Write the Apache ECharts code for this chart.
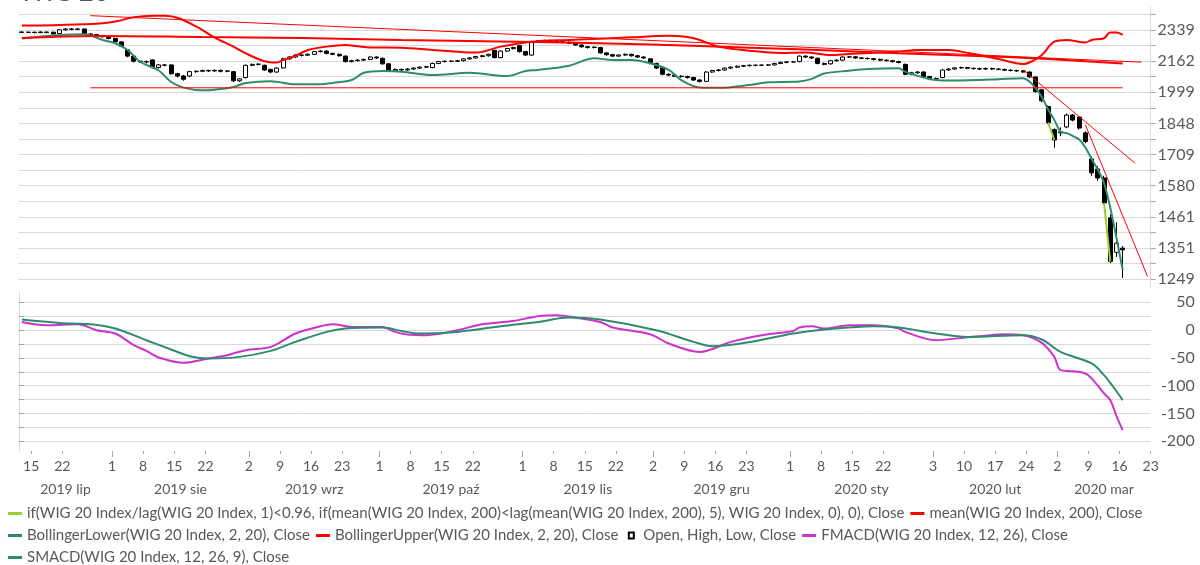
<!DOCTYPE html>
<html>
<head>
<meta charset="utf-8">
<script src="https://cdn.jsdelivr.net/npm/echarts@6/dist/echarts.min.js"></script>
<style>
  html, body { margin: 0; padding: 0; background: #fff; }
  #chart { width: 1200px; height: 565px; }
</style>
</head>
<body>
<div id="chart"></div>
<script>
// axis range (trading days) and tick labels
const firstDay = '2019-07-11'
const lastDay = '2020-03-20'
const axisEndDay = '2020-03-23'
const dayTicks = [
  '2019-07-15', '2019-07-22', '2019-08-01', '2019-08-08', '2019-08-15', '2019-08-22',
  '2019-09-02', '2019-09-09', '2019-09-16', '2019-09-23', '2019-10-01', '2019-10-08',
  '2019-10-15', '2019-10-22', '2019-11-01', '2019-11-08', '2019-11-15', '2019-11-22',
  '2019-12-02', '2019-12-09', '2019-12-16', '2019-12-23', '2020-01-01', '2020-01-08',
  '2020-01-15', '2020-01-22', '2020-02-03', '2020-02-10', '2020-02-17', '2020-02-24',
  '2020-03-02', '2020-03-09', '2020-03-16', '2020-03-23'
]
const monthStarts = ['2019-08-01', '2019-09-02', '2019-10-01', '2019-11-01', '2019-12-02', '2020-01-01', '2020-02-03', '2020-03-02']
const monthNames = ['2019 lip', '2019 sie', '2019 wrz', '2019 paź', '2019 lis', '2019 gru', '2020 sty', '2020 lut', '2020 mar']
const priceTicks = [1249, 1351, 1461, 1580, 1709, 1848, 1999, 2162, 2339]
const macdTicks = [-200, -150, -100, -50, 0, 50]

// WIG 20 daily candles, 2019-07-11 .. 2020-03-16
const opens = [
  2327, 2325, 2326, 2324, 2327, 2326, 2318, 2340, 2345, 2343,
  2345, 2316, 2312, 2305, 2300, 2290, 2270, 2225, 2190, 2162,
  2160, 2169, 2128, 2142, 2142, 2095, 2083, 2083, 2106, 2108,
  2112, 2110, 2113, 2108, 2106, 2058, 2075, 2140, 2145, 2140,
  2118, 2104, 2126, 2175, 2185, 2196, 2195, 2200, 2215, 2218,
  2205, 2200, 2190, 2160, 2165, 2168, 2172, 2185, 2178, 2148,
  2110, 2118, 2115, 2120, 2125, 2130, 2128, 2150, 2160, 2162,
  2162, 2165, 2175, 2180, 2188, 2192, 2222, 2182, 2218, 2232,
  2248, 2215, 2196, 2272, 2276, 2278, 2272, 2270, 2268, 2262,
  2252, 2242, 2238, 2238, 2208, 2198, 2190, 2196, 2200, 2192,
  2185, 2175, 2150, 2130, 2092, 2088, 2082, 2080, 2075, 2062,
  2055, 2104, 2112, 2115, 2125, 2130, 2135, 2138, 2140, 2140,
  2141, 2142, 2150, 2156, 2158, 2160, 2190, 2185, 2178, 2150,
  2148, 2165, 2168, 2185, 2186, 2180, 2178, 2176, 2172, 2168,
  2165, 2160, 2145, 2092, 2100, 2104, 2080, 2070, 2075, 2115,
  2120, 2126, 2128, 2124, 2122, 2120, 2123, 2120, 2118, 2114,
  2112, 2110, 2104, 2078, 2012, 1929, 1820, 1805, 1832, 1888,
  1878, 1805, 1690, 1648, 1611, 1457, 1336, 1350
]
const closes = [
  2325, 2326, 2324, 2327, 2324, 2316, 2340, 2345, 2343, 2345,
  2316, 2312, 2305, 2300, 2290, 2270, 2245, 2190, 2162, 2160,
  2158, 2130, 2142, 2140, 2095, 2083, 2066, 2106, 2108, 2112,
  2110, 2113, 2108, 2110, 2058, 2068, 2140, 2145, 2146, 2115,
  2104, 2125, 2175, 2185, 2196, 2195, 2200, 2215, 2218, 2205,
  2200, 2192, 2160, 2165, 2168, 2172, 2185, 2180, 2148, 2110,
  2118, 2115, 2120, 2125, 2130, 2132, 2150, 2160, 2162, 2162,
  2165, 2175, 2180, 2188, 2192, 2200, 2182, 2218, 2232, 2238,
  2215, 2196, 2272, 2276, 2278, 2272, 2270, 2268, 2262, 2252,
  2242, 2238, 2240, 2208, 2198, 2190, 2196, 2200, 2192, 2185,
  2180, 2150, 2125, 2092, 2088, 2082, 2080, 2075, 2062, 2055,
  2104, 2112, 2115, 2125, 2130, 2135, 2138, 2140, 2140, 2141,
  2142, 2150, 2156, 2158, 2158, 2190, 2185, 2180, 2150, 2145,
  2165, 2168, 2185, 2186, 2180, 2178, 2176, 2172, 2168, 2165,
  2160, 2155, 2092, 2100, 2104, 2080, 2070, 2068, 2115, 2120,
  2126, 2128, 2124, 2122, 2120, 2123, 2120, 2118, 2114, 2112,
  2110, 2104, 2078, 2003, 1957, 1852, 1773, 1810, 1888, 1864,
  1827, 1766, 1632, 1611, 1513, 1305, 1367, 1344
]
const lows = [
  2320, 2321, 2319, 2320, 2319, 2312, 2315, 2336, 2338, 2339,
  2312, 2306, 2300, 2294, 2285, 2265, 2240, 2184, 2155, 2152,
  2150, 2125, 2122, 2134, 2090, 2076, 2058, 2078, 2100, 2103,
  2104, 2105, 2102, 2103, 2052, 2052, 2070, 2135, 2139, 2110,
  2098, 2100, 2122, 2170, 2181, 2189, 2191, 2196, 2210, 2200,
  2195, 2187, 2155, 2155, 2160, 2163, 2168, 2174, 2143, 2105,
  2104, 2109, 2110, 2115, 2120, 2125, 2124, 2146, 2155, 2156,
  2157, 2160, 2170, 2176, 2183, 2187, 2177, 2178, 2213, 2227,
  2210, 2190, 2192, 2267, 2271, 2267, 2264, 2262, 2257, 2247,
  2237, 2232, 2233, 2203, 2192, 2185, 2186, 2191, 2187, 2180,
  2175, 2145, 2120, 2087, 2082, 2077, 2074, 2069, 2057, 2049,
  2051, 2099, 2107, 2111, 2120, 2125, 2130, 2133, 2135, 2136,
  2136, 2138, 2146, 2151, 2154, 2156, 2180, 2175, 2145, 2140,
  2143, 2160, 2164, 2180, 2175, 2173, 2171, 2167, 2163, 2160,
  2155, 2150, 2087, 2087, 2095, 2075, 2065, 2062, 2071, 2110,
  2115, 2121, 2119, 2117, 2115, 2115, 2115, 2113, 2109, 2107,
  2105, 2099, 2072, 1997, 1950, 1845, 1739, 1790, 1826, 1858,
  1820, 1758, 1620, 1600, 1505, 1300, 1320, 1252
]
const highs = [
  2331, 2330, 2329, 2331, 2330, 2329, 2344, 2349, 2350, 2350,
  2348, 2320, 2316, 2309, 2304, 2294, 2274, 2230, 2195, 2168,
  2166, 2173, 2147, 2147, 2146, 2100, 2088, 2110, 2113, 2117,
  2116, 2118, 2117, 2114, 2110, 2072, 2144, 2150, 2151, 2144,
  2121, 2129, 2180, 2190, 2200, 2201, 2205, 2219, 2223, 2222,
  2209, 2204, 2194, 2170, 2173, 2177, 2189, 2189, 2182, 2152,
  2123, 2122, 2125, 2129, 2134, 2137, 2154, 2164, 2167, 2168,
  2170, 2179, 2185, 2192, 2197, 2204, 2226, 2222, 2236, 2243,
  2252, 2219, 2277, 2281, 2283, 2283, 2277, 2275, 2273, 2266,
  2256, 2247, 2245, 2242, 2212, 2203, 2200, 2205, 2204, 2197,
  2189, 2179, 2154, 2134, 2097, 2093, 2087, 2085, 2079, 2066,
  2108, 2116, 2120, 2129, 2134, 2139, 2142, 2145, 2144, 2145,
  2147, 2154, 2160, 2162, 2162, 2194, 2194, 2189, 2182, 2155,
  2169, 2173, 2189, 2191, 2190, 2184, 2182, 2180, 2176, 2172,
  2169, 2164, 2149, 2105, 2109, 2108, 2084, 2075, 2119, 2125,
  2130, 2133, 2132, 2128, 2127, 2128, 2127, 2124, 2122, 2118,
  2116, 2114, 2107, 2082, 2016, 1935, 1826, 1830, 1895, 1893,
  1883, 1812, 1700, 1660, 1620, 1470, 1440, 1357
]

// days on which the if(...) signal returns the close
const signalDays = ['2020-02-27', '2020-02-28', '2020-03-09', '2020-03-11', '2020-03-12']

const bbUpper = [
  ['2019-07-11', 2365], ['2019-07-18', 2367], ['2019-07-25', 2373], ['2019-07-30', 2379], ['2019-08-01', 2389],
  ['2019-08-06', 2415], ['2019-08-09', 2425], ['2019-08-13', 2424], ['2019-08-15', 2412], ['2019-08-20', 2360],
  ['2019-08-23', 2295], ['2019-08-28', 2243], ['2019-08-30', 2205], ['2019-09-04', 2162], ['2019-09-06', 2155],
  ['2019-09-09', 2168], ['2019-09-11', 2192], ['2019-09-13', 2224], ['2019-09-18', 2243], ['2019-09-23', 2252],
  ['2019-09-25', 2245], ['2019-09-27', 2238], ['2019-10-04', 2237], ['2019-10-11', 2224], ['2019-10-18', 2212],
  ['2019-10-22', 2210], ['2019-10-28', 2243], ['2019-11-04', 2271], ['2019-11-12', 2281], ['2019-11-19', 2288],
  ['2019-11-26', 2296], ['2019-12-04', 2305], ['2019-12-09', 2298], ['2019-12-11', 2281], ['2019-12-16', 2243],
  ['2019-12-23', 2220], ['2019-12-30', 2208], ['2020-01-03', 2210], ['2020-01-09', 2196], ['2020-01-14', 2202],
  ['2020-01-24', 2215], ['2020-01-29', 2224], ['2020-02-05', 2224], ['2020-02-07', 2215], ['2020-02-12', 2196],
  ['2020-02-17', 2174], ['2020-02-21', 2147], ['2020-02-24', 2155], ['2020-02-26', 2196], ['2020-02-28', 2271],
  ['2020-03-03', 2281], ['2020-03-06', 2266], ['2020-03-09', 2281], ['2020-03-11', 2291], ['2020-03-12', 2325],
  ['2020-03-13', 2325], ['2020-03-16', 2310]
]
const bbLower = [
  ['2019-07-11', 2290], ['2019-07-25', 2314], ['2019-07-30', 2281], ['2019-08-01', 2262], ['2019-08-05', 2224],
  ['2019-08-07', 2159], ['2019-08-12', 2112], ['2019-08-14', 2052], ['2019-08-16', 2023], ['2019-08-21', 2009],
  ['2019-08-23', 2012], ['2019-08-28', 2026], ['2019-08-30', 2047], ['2019-09-05', 2056], ['2019-09-11', 2040],
  ['2019-09-17', 2040], ['2019-09-19', 2047], ['2019-09-24', 2062], ['2019-09-26', 2100], ['2019-10-01', 2109],
  ['2019-10-04', 2106], ['2019-10-11', 2088], ['2019-10-21', 2100], ['2019-10-29', 2083], ['2019-11-01', 2110],
  ['2019-11-05', 2115], ['2019-11-12', 2138], ['2019-11-18', 2178], ['2019-11-21', 2169], ['2019-11-26', 2169],
  ['2019-11-29', 2151], ['2019-12-04', 2115], ['2019-12-06', 2062], ['2019-12-11', 2024], ['2019-12-16', 2022],
  ['2019-12-23', 2036], ['2019-12-26', 2050], ['2020-01-02', 2054], ['2020-01-06', 2068], ['2020-01-08', 2096],
  ['2020-01-14', 2111], ['2020-01-17', 2120], ['2020-01-24', 2124], ['2020-01-27', 2106], ['2020-01-31', 2066],
  ['2020-02-05', 2059], ['2020-02-12', 2062], ['2020-02-17', 2066], ['2020-02-21', 2071], ['2020-02-24', 2054],
  ['2020-02-25', 2020], ['2020-02-26', 1975], ['2020-02-27', 1915], ['2020-02-28', 1865], ['2020-03-02', 1811],
  ['2020-03-03', 1804], ['2020-03-04', 1790], ['2020-03-05', 1775], ['2020-03-06', 1740], ['2020-03-09', 1690],
  ['2020-03-10', 1645], ['2020-03-11', 1590], ['2020-03-12', 1495], ['2020-03-13', 1385], ['2020-03-16', 1278]
]
const mean200 = [
  ['2019-07-11', 2292], ['2019-07-29', 2304], ['2019-08-21', 2298], ['2019-09-12', 2292], ['2019-10-04', 2281],
  ['2019-10-28', 2272], ['2019-11-19', 2262], ['2019-12-11', 2246], ['2020-01-02', 2228], ['2020-01-24', 2206],
  ['2020-02-17', 2186], ['2020-02-27', 2174], ['2020-03-16', 2150]
]
const fmacd = [
  ['2019-07-11', 14.6], ['2019-07-17', 8.7], ['2019-07-24', 10.5], ['2019-07-29', -0.3], ['2019-08-01', -6.2],
  ['2019-08-06', -27.2], ['2019-08-08', -37.4], ['2019-08-12', -49.2], ['2019-08-16', -58.9], ['2019-08-22', -51],
  ['2019-08-27', -45.1], ['2019-08-30', -36.1], ['2019-09-05', -30.2], ['2019-09-11', -6.2], ['2019-09-17', 6.9],
  ['2019-09-19', 10.5], ['2019-09-24', 5.7], ['2019-10-01', 5.7], ['2019-10-03', -3.3], ['2019-10-07', -8],
  ['2019-10-10', -9.2], ['2019-10-17', -0.3], ['2019-10-23', 10.5], ['2019-10-30', 16.4], ['2019-11-05', 24.9],
  ['2019-11-08', 26.7], ['2019-11-13', 22.5], ['2019-11-19', 14.6], ['2019-11-21', 4.6], ['2019-11-29', -7.4],
  ['2019-12-04', -24.1], ['2019-12-11', -39.2], ['2019-12-18', -21.2], ['2019-12-25', -9.2], ['2020-01-01', -1.5],
  ['2020-01-02', 4.6], ['2020-01-06', 6.9], ['2020-01-08', 2.8], ['2020-01-14', 8.7], ['2020-01-20', 8.7],
  ['2020-01-24', 2.8], ['2020-01-27', -3.3], ['2020-02-03', -18.2], ['2020-02-07', -14.1], ['2020-02-12', -11],
  ['2020-02-18', -7.4], ['2020-02-21', -9.2], ['2020-02-26', -23], ['2020-02-28', -48.2], ['2020-03-02', -72],
  ['2020-03-04', -74], ['2020-03-06', -78], ['2020-03-09', -86.9], ['2020-03-11', -113.9], ['2020-03-12', -125.9],
  ['2020-03-13', -154.6], ['2020-03-16', -179.7]
]
const smacd = [
  ['2019-07-11', 18.9], ['2019-07-19', 12.9], ['2019-07-26', 10.5], ['2019-08-01', 2.8], ['2019-08-08', -18.2],
  ['2019-08-14', -34.9], ['2019-08-19', -46.9], ['2019-08-22', -51], ['2019-08-29', -48.2], ['2019-09-05', -37.4],
  ['2019-09-11', -21.2], ['2019-09-18', -3.3], ['2019-09-23', 2.8], ['2019-10-01', 4.6], ['2019-10-04', -1.5],
  ['2019-10-09', -6.2], ['2019-10-17', -3.3], ['2019-10-28', 6.9], ['2019-11-05', 14.6], ['2019-11-12', 22.5],
  ['2019-11-19', 18.9], ['2019-12-02', -0.3], ['2019-12-10', -21.2], ['2019-12-13', -29], ['2019-12-24', -19.5],
  ['2020-01-01', -6.2], ['2020-01-08', 1], ['2020-01-20', 6.9], ['2020-01-24', 4.6], ['2020-02-03', -6.2],
  ['2020-02-10', -12.3], ['2020-02-21', -9.2], ['2020-02-26', -16.9], ['2020-03-02', -39.2], ['2020-03-09', -60],
  ['2020-03-11', -81], ['2020-03-12', -95], ['2020-03-13', -110], ['2020-03-16', -126]
]

// hand drawn trend lines
const trendTop = [['2019-07-26', 2425], ['2020-03-19', 2157]]
const trendFlat = [['2019-07-26', 2022], ['2020-03-16', 2022]]
const trendCrash1 = [['2020-02-21', 2115], ['2020-03-18', 1672]]
const trendCrash2 = [['2020-03-06', 1842], ['2020-03-20', 1257]]

const names = {
  signal: 'if(WIG 20 Index/lag(WIG 20 Index, 1)<0.96, if(mean(WIG 20 Index, 200)<lag(mean(WIG 20 Index, 200), 5), WIG 20 Index, 0), 0), Close',
  mean: 'mean(WIG 20 Index, 200), Close',
  lower: 'BollingerLower(WIG 20 Index, 2, 20), Close',
  upper: 'BollingerUpper(WIG 20 Index, 2, 20), Close',
  ohlc: 'Open, High, Low, Close',
  fmacd: 'FMACD(WIG 20 Index, 12, 26), Close',
  smacd: 'SMACD(WIG 20 Index, 12, 26, 9), Close'
}

const RED = '#ff0000'
const TEAL = '#2e8b6f'
const MAGENTA = '#cc33cc'
const LIME = '#9acd32'
const GRID = '#d9d9d9'
const TEXT = '#595959'
const FONT = 'Lato'

function weekdays (from, to) {
  const out = []
  const d = new Date(from + 'T00:00:00Z')
  const end = new Date(to + 'T00:00:00Z')
  while (d <= end) {
    const w = d.getUTCDay()
    if (w !== 0 && w !== 6) out.push(d.toISOString().slice(0, 10))
    d.setUTCDate(d.getUTCDate() + 1)
  }
  return out
}

const days = weekdays(firstDay, lastDay)
const tickDays = weekdays(firstDay, axisEndDay)
const pos = s => tickDays.indexOf(s)

// price axis is logarithmic: one grid line per half label step
const STEP = Math.log(priceTicks[priceTicks.length - 1] / priceTicks[0]) / ((priceTicks.length - 1) * 2)
const lg = p => Math.log(p / priceTicks[0]) / STEP
const priceGridLines = Array.from({ length: (priceTicks.length - 1) * 2 + 2 }, (_, k) => k)
const priceLabelPos = priceTicks.map((_, k) => k * 2)

const macdGridLines = []
for (let v = macdTicks[0]; v <= macdTicks[macdTicks.length - 1]; v += 25) macdGridLines.push(v)

const dayTickPos = dayTicks.map(pos)
const dayTickText = {}
dayTicks.forEach(d => { dayTickText[pos(d)] = String(Number(d.slice(8))) })
const monthStartPos = monthStarts.map(pos)
const bounds = [0, ...monthStartPos, days.length]
const monthMidPos = monthNames.map((_, k) => (bounds[k] + bounds[k + 1]) / 2)
const monthText = {}
monthMidPos.forEach((p, k) => { monthText[p] = monthNames[k] })

const candleData = opens.map((o, i) => [lg(o), lg(closes[i]), lg(lows[i]), lg(highs[i])])
const signalData = closes.map((c, i) => signalDays.includes(days[i]) ? lg(c) : null)
const logPairs = arr => arr.map(([d, v]) => [d, lg(v)])

const lineIcon = 'path://M0,0h0.01v0.01h-0.01z M0,3.5h14v3h-14z M13.99,9.99h0.01v0.01h-0.01z'
const candleIcon = 'path://M0,0h0.01v0.01h-0.01z M3.5,1h7v8h-7z M5.5,3v4h3v-4z M13.99,9.99h0.01v0.01h-0.01z'

const legendBase = {
  left: 8,
  padding: 0,
  itemWidth: 14,
  itemHeight: 10,
  itemGap: 6,
  selectedMode: false,
  itemStyle: { borderWidth: 0 },
  textStyle: { color: TEXT, fontSize: 15, fontFamily: FONT }
}

const valueXAxis = extra => Object.assign({
  type: 'value', gridIndex: 1, position: 'bottom', min: 0, max: days.length,
  axisLine: { show: false }, splitLine: { show: false }
}, extra)

const trend = data => ({
  type: 'line', xAxisIndex: 0, yAxisIndex: 0, data: logPairs(data), silent: true,
  symbol: 'none', color: RED, lineStyle: { width: 1, color: RED }
})

const chart = echarts.init(document.getElementById('chart'))

chart.setOption({
  animation: false,
  textStyle: { fontFamily: FONT },
  title: {
    text: 'WIG 20', left: 14, top: -25,
    textStyle: { fontSize: 26, fontWeight: 'normal', color: TEXT, fontFamily: FONT }
  },
  legend: [
    Object.assign({ top: 506, data: [
      { name: names.signal, icon: lineIcon },
      { name: names.mean, icon: lineIcon }
    ] }, legendBase),
    Object.assign({ top: 528, data: [
      { name: names.lower, icon: lineIcon },
      { name: names.upper, icon: lineIcon },
      { name: names.ohlc, icon: candleIcon, itemStyle: { color: '#000', borderWidth: 0 } },
      { name: names.fmacd, icon: lineIcon }
    ] }, legendBase),
    Object.assign({ top: 550, data: [
      { name: names.smacd, icon: lineIcon }
    ] }, legendBase)
  ],
  grid: [
    { left: 18.8, right: 49.3, top: 7, height: 281.3 },
    { left: 18.8, right: 49.3, top: 292.3, height: 158.7 }
  ],
  xAxis: [
    {
      type: 'category', gridIndex: 0, position: 'bottom', data: days, boundaryGap: true,
      axisLine: { lineStyle: { color: GRID } }, axisTick: { show: false }, axisLabel: { show: false }
    },
    {
      type: 'category', gridIndex: 1, position: 'bottom', data: days, boundaryGap: true,
      axisLine: { lineStyle: { color: GRID } }, axisTick: { show: false }, axisLabel: { show: false }
    },
    valueXAxis({
      axisTick: { customValues: dayTickPos, length: 3, lineStyle: { color: '#a6a6a6' } },
      axisLabel: {
        customValues: dayTickPos, formatter: v => dayTickText[v] || '',
        color: TEXT, fontSize: 14, margin: 8, fontFamily: FONT
      }
    }),
    valueXAxis({
      axisTick: { customValues: monthStartPos, length: 6, lineStyle: { color: '#a6a6a6' } },
      axisLabel: { show: false }
    }),
    valueXAxis({
      axisTick: { show: false },
      axisLabel: {
        customValues: monthMidPos, formatter: v => monthText[v] || '',
        color: TEXT, fontSize: 14, margin: 31, fontFamily: FONT
      }
    })
  ],
  yAxis: [
    {
      type: 'value', gridIndex: 0, position: 'right',
      min: -(288.3 - 279) / 15.5625, max: 16 + (30 - 7) / 15.5625,
      axisLine: { show: true, lineStyle: { color: GRID } },
      axisTick: { show: true, customValues: priceGridLines, length: 5, lineStyle: { color: '#a6a6a6' } },
      axisLabel: {
        customValues: priceLabelPos, formatter: v => String(priceTicks[Math.round(v / 2)]),
        color: TEXT, fontSize: 16, align: 'right', margin: 44, fontFamily: FONT
      },
      splitLine: { show: true, lineStyle: { color: GRID } }
    },
    {
      type: 'value', gridIndex: 1, position: 'right',
      min: -217.4, max: 67.9,
      axisLine: { show: true, lineStyle: { color: GRID } },
      axisTick: { show: true, customValues: macdGridLines, length: 5, lineStyle: { color: '#a6a6a6' } },
      axisLabel: {
        customValues: macdTicks, formatter: v => String(v),
        color: TEXT, fontSize: 16, align: 'right', margin: 44, fontFamily: FONT
      },
      splitLine: { show: true, lineStyle: { color: GRID } }
    }
  ],
  series: [
    {
      name: names.ohlc, type: 'candlestick', xAxisIndex: 0, yAxisIndex: 0,
      data: candleData, barWidth: 4.5,
      itemStyle: { color: '#ffffff', color0: '#000000', borderColor: '#000000', borderColor0: '#000000', borderWidth: 1 }
    },
    {
      name: names.lower, type: 'line', xAxisIndex: 0, yAxisIndex: 0, data: logPairs(bbLower),
      symbol: 'none', smooth: 0.35, color: TEAL, lineStyle: { width: 2 }
    },
    {
      name: names.upper, type: 'line', xAxisIndex: 0, yAxisIndex: 0, data: logPairs(bbUpper),
      symbol: 'none', smooth: 0.35, color: RED, lineStyle: { width: 2 }
    },
    {
      name: names.mean, type: 'line', xAxisIndex: 0, yAxisIndex: 0, data: logPairs(mean200),
      symbol: 'none', smooth: 0.35, color: RED, lineStyle: { width: 2 }
    },
    trend(trendTop),
    trend(trendFlat),
    trend(trendCrash1),
    trend(trendCrash2),
    {
      name: names.signal, type: 'line', xAxisIndex: 0, yAxisIndex: 0, data: signalData,
      symbol: 'none', connectNulls: false, color: LIME, lineStyle: { width: 2 }
    },
    {
      name: names.fmacd, type: 'line', xAxisIndex: 1, yAxisIndex: 1, data: fmacd,
      symbol: 'none', smooth: 0.35, color: MAGENTA, lineStyle: { width: 2 }
    },
    {
      name: names.smacd, type: 'line', xAxisIndex: 1, yAxisIndex: 1, data: smacd,
      symbol: 'none', smooth: 0.35, color: TEAL, lineStyle: { width: 2 }
    }
  ]
})

window.addEventListener('resize', () => chart.resize())
</script>
</body>
</html>
